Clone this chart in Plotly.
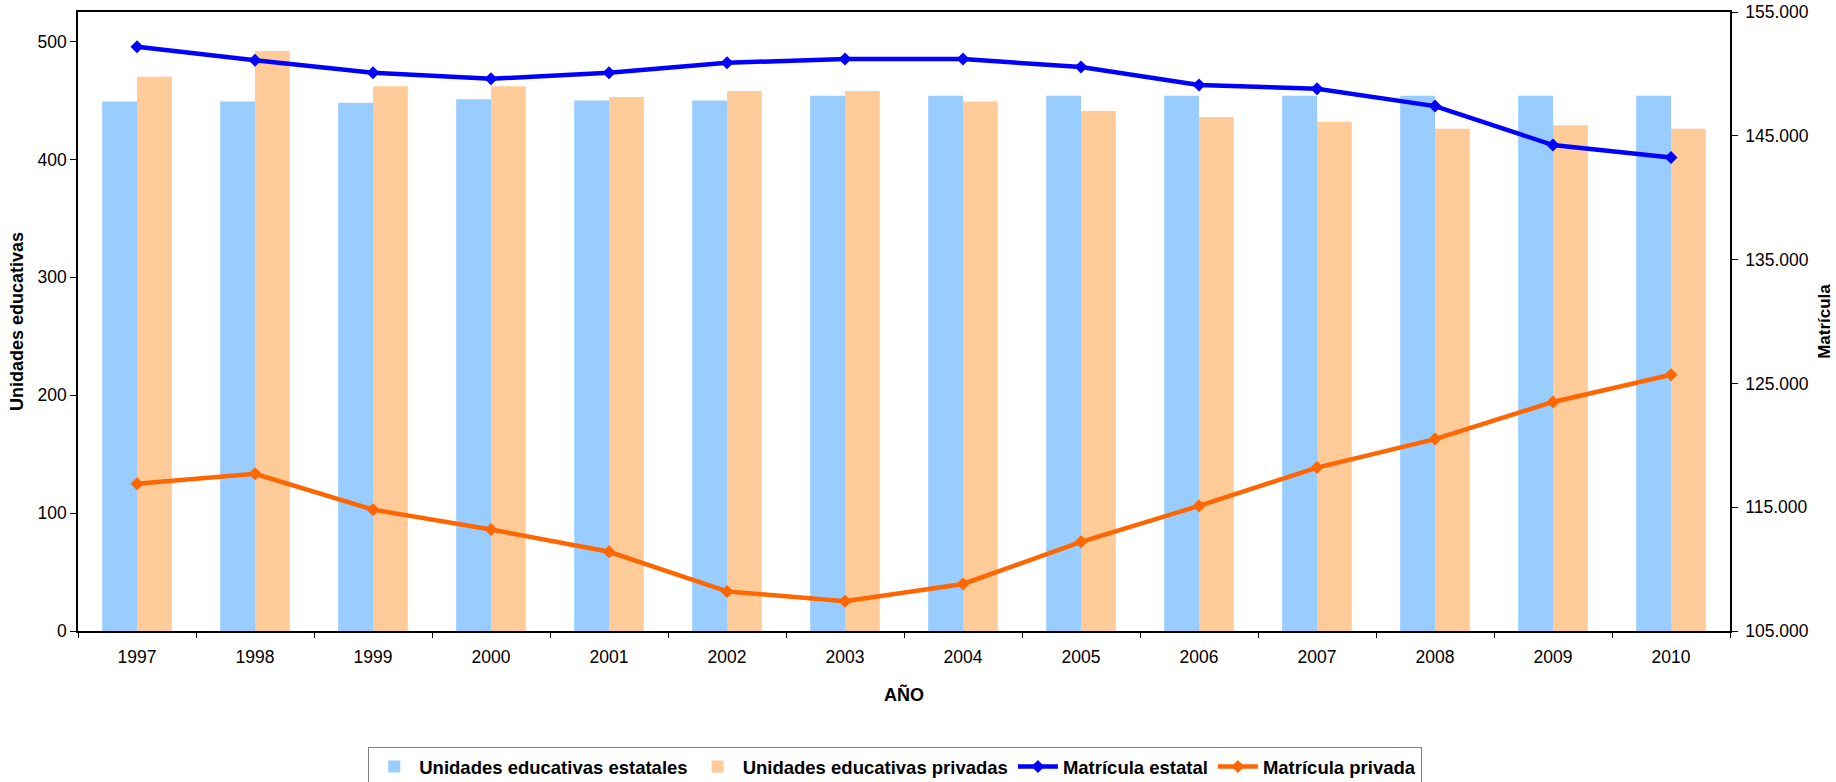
import plotly.graph_objects as go

# Años del período
anios = ["1997", "1998", "1999", "2000", "2001", "2002", "2003",
         "2004", "2005", "2006", "2007", "2008", "2009", "2010"]

# Unidades educativas (eje izquierdo)
unidades_estatales = [449, 449, 448, 451, 450, 450, 454,
                      454, 454, 454, 454, 454, 454, 454]
unidades_privadas = [470, 492, 462, 462, 453, 458, 458,
                     449, 441, 436, 432, 426, 429, 426]

# Matrícula (eje derecho)
matricula_estatal = [152200, 151100, 150100, 149600, 150100, 150900, 151200,
                     151200, 150550, 149100, 148800, 147400, 144250, 143250]
matricula_privada = [116900, 117700, 114800, 113200, 111400, 108200, 107400,
                     108800, 112200, 115100, 118200, 120500, 123500, 125700]

FONT = "Liberation Sans, Arial, sans-serif"
TICK_SIZE = 17.5

fig = go.Figure()

fig.add_trace(go.Bar(
    x=anios, y=unidades_estatales, name="Unidades educativas estatales",
    marker=dict(color="#99CCFF", line=dict(width=0)), yaxis="y",
))
fig.add_trace(go.Bar(
    x=anios, y=unidades_privadas, name="Unidades educativas privadas",
    marker=dict(color="#FFCC99", line=dict(width=0)), yaxis="y",
))
fig.add_trace(go.Scatter(
    x=anios, y=matricula_estatal, name="Matrícula estatal",
    mode="lines+markers", yaxis="y2",
    line=dict(color="#0000FF", width=4.5),
    marker=dict(symbol="diamond", size=10, color="#0000FF"),
))
fig.add_trace(go.Scatter(
    x=anios, y=matricula_privada, name="Matrícula privada",
    mode="lines+markers", yaxis="y2",
    line=dict(color="#FF6600", width=4.5),
    marker=dict(symbol="diamond", size=10, color="#FF6600"),
))

fig.update_layout(
    width=1836, height=782,
    margin=dict(l=78, r=106, t=12, b=151, autoexpand=False),
    paper_bgcolor="white", plot_bgcolor="white",
    font=dict(family=FONT, size=TICK_SIZE, color="black"),
    separators=",.",
    barmode="group", bargap=0.41, bargroupgap=0,
    showlegend=True,
    legend=dict(
        orientation="h", xref="paper", x=0.4947, xanchor="center",
        yref="container", y=1 - 747 / 782, yanchor="top",
        bordercolor="#808080", borderwidth=1, bgcolor="white",
        font=dict(family=FONT, size=18.5, color="black", weight="bold"),
        itemwidth=40, tracegroupgap=0,
    ),
    xaxis=dict(
        type="category", range=[-0.5, 13.5], autorange=False,
        tickson="boundaries", ticks="outside", ticklen=5,
        tickcolor="black", showline=True, linecolor="black", linewidth=1.5,
        mirror=True, showgrid=False, tickfont=dict(size=TICK_SIZE),
        ticklabelstandoff=9, automargin=False,
        title=dict(text="AÑO", font=dict(size=18, weight="bold"), standoff=23),
    ),
    yaxis=dict(
        range=[0, 525], dtick=100, tick0=0, ticks="outside", ticklen=6,
        tickcolor="black", showline=True, linecolor="black", linewidth=1.5,
        showgrid=False, zeroline=False, tickfont=dict(size=TICK_SIZE),
        automargin=False,
        title=dict(text="Unidades educativas", font=dict(size=18, weight="bold"),
                   standoff=9),
    ),
    yaxis2=dict(
        overlaying="y", side="right", range=[105000, 155000], dtick=10000,
        tick0=105000, tickformat=",.0f", ticks="outside", ticklen=6,
        tickcolor="black", showline=True, linecolor="black", linewidth=1.5,
        showgrid=False, zeroline=False, tickfont=dict(size=TICK_SIZE),
        ticklabelstandoff=4, automargin=False,
        title=dict(text="Matrícula", font=dict(size=17, weight="bold"),
                   standoff=10),
    ),
)

fig.write_html("out.html")
